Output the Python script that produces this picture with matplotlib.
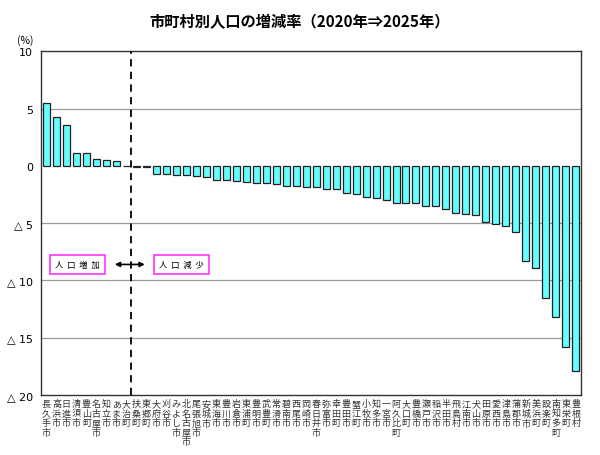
import matplotlib
matplotlib.use("Agg")
import matplotlib.pyplot as plt

plt.rcParams['font.family'] = ['Noto Sans CJK JP', 'DejaVu Sans']

names = ['長久手市', '高浜市', '日進市', '清須市', '豊山町', '名古屋市', '知立市', 'あま市',
         '大治町', '扶桑町', '東郷町', '大府市', '刈谷市', 'みよし市', '北名古屋市', '尾張旭市',
         '安城市', '東海市', '豊川市', '岩倉市', '東浦町', '豊明市', '武豊町', '常滑市',
         '碧南市', '西尾市', '岡崎市', '春日井市', '弥富市', '幸田町', '豊田市', '蟹江町',
         '小牧市', '知多市', '一宮市', '阿久比町', '大口町', '豊橋市', '瀬戸市', '稲沢市',
         '半田市', '飛島村', '江南市', '犬山市', '田原市', '愛西市', '津島市', '蒲郡市',
         '新城市', '美浜町', '設楽町', '南知多町', '東栄町', '豊根村']
rates = [5.54, 4.31, 3.55, 1.17, 1.10, 0.58, 0.53, 0.41,
         0.03, -0.05, -0.06, -0.72, -0.72, -0.81, -0.81, -0.87,
         -0.96, -1.22, -1.22, -1.31, -1.42, -1.45, -1.51, -1.60,
         -1.75, -1.78, -1.82, -1.86, -1.98, -2.04, -2.33, -2.41,
         -2.67, -2.76, -2.97, -3.20, -3.20, -3.26, -3.46, -3.52,
         -3.75, -4.13, -4.19, -4.28, -4.86, -5.06, -5.21, -5.76,
         -8.32, -8.87, -11.53, -13.15, -15.83, -17.90]
yticks = [10, 5, 0, -5, -10, -15, -20]
ytick_labels = ['10', '5', '0', '△ 5', '△ 10', '△ 15', '△ 20']

fig = plt.figure(figsize=(6, 4.56), dpi=100)
ax = fig.add_axes([0.069, 0.1316, 0.899, 0.7534])

x = range(len(names))
ax.bar(x, rates, width=0.7, color='#66FFFF', edgecolor='#222222', linewidth=0.9, zorder=3)

ax.set_xlim(-0.5, len(names) - 0.5)
ax.set_ylim(-20, 10)
ax.set_yticks(yticks)
ax.set_yticklabels(ytick_labels, fontsize=8, family=['DejaVu Sans'])
ax.tick_params(axis='y', length=0, pad=6)
for v in [5, -5, -10, -15]:
    ax.axhline(v, color='#999999', linewidth=0.9, zorder=1)

# vertical labels, one character per line
ax.set_xticks(list(x))
ax.set_xticklabels(['\n'.join(n) for n in names], fontsize=6.5, linespacing=1.08, va='top',
                   color='#333333')
ax.tick_params(axis='x', length=0, pad=3)

for s in ax.spines.values():
    s.set_color('#333333')
    s.set_linewidth(1.0)

# boundary between increase / decrease
ax.axvline(8.5, color='black', linestyle=(0, (4, 3)), linewidth=1.3, zorder=4)

ax.text(3.1, -8.6, '人  口  増  加', ha='center', va='center', fontsize=6,
        bbox=dict(boxstyle='square,pad=0.6', facecolor='white', edgecolor='#FF33FF', linewidth=1.2),
        zorder=5)
ax.text(13.5, -8.6, '人  口  減  少', ha='center', va='center', fontsize=6,
        bbox=dict(boxstyle='square,pad=0.6', facecolor='white', edgecolor='#FF33FF', linewidth=1.2),
        zorder=5)
ax.annotate('', xy=(6.85, -8.6), xytext=(9.85, -8.6),
            arrowprops=dict(arrowstyle='<|-|>', color='black', linewidth=1.2,
                            mutation_scale=7, shrinkA=0, shrinkB=0), zorder=5)

fig.text(0.5, 0.952, '市町村別人口の増減率（2020年⇒2025年）', ha='center', va='center',
         fontsize=11, fontweight='bold')
fig.text(0.042, 0.91, '(%)', ha='center', va='center', fontsize=7.5)

fig.savefig('out.png', dpi=100)
